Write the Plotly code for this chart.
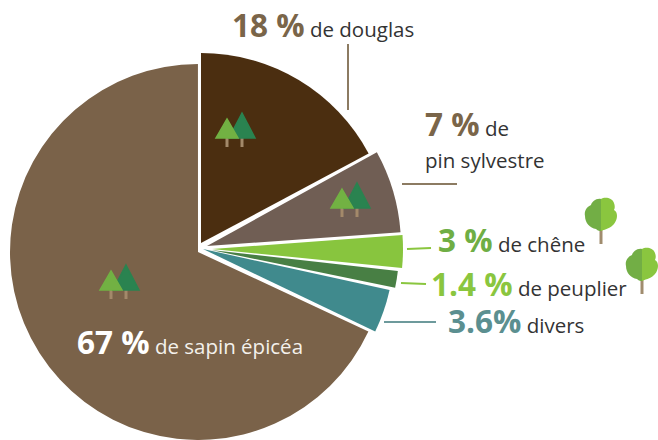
import plotly.graph_objects as go

W, H = 658, 440
# Drawn shares of each wedge (percent of the circle)
names = ["douglas", "pin sylvestre", "chêne", "peuplier", "divers", "sapin épicéa"]
shares = [17.2, 6.9, 2.75, 1.45, 3.67, 68.05]
colors = ["#4b2e10", "#705e54", "#88c53e", "#487f44", "#408a8d", "#7a6249"]
# Layout of the exploded wedges: vertex x, y, radius, start angle
centers_x = [201, 207, 212, 211, 203, 198]
centers_y = [243, 246, 249, 250, 249, 252]
radii = [190, 194, 191, 188, 191, 188]
rotations = [0, 61.1, 85.8, 96.4, 102.4, 115]

TXT = "#333333"
BROWN = "#7a6549"


def px(x):
    return x / W


def py(y):
    return 1 - y / H


def path(cmds):
    out = []
    for c in cmds:
        if isinstance(c, str):
            out.append(c)
        else:
            out.append(f"{px(c[0]):.5f},{py(c[1]):.5f}")
    return " ".join(out)


fig = go.Figure()
for n, s, c, cx, cy, r, rot in zip(names, shares, colors, centers_x, centers_y, radii, rotations):
    fig.add_trace(go.Pie(
        labels=[n, "reste"],
        values=[s, 100 - s],
        sort=False,
        direction="clockwise",
        rotation=rot,
        marker=dict(colors=[c, "rgba(0,0,0,0)"], line=dict(width=0)),
        textinfo="none",
        hoverinfo="skip",
        showlegend=False,
        domain=dict(x=[(cx - r) / W, (cx + r) / W], y=[1 - (cy + r) / H, 1 - (cy - r) / H]),
    ))

shapes = []


def line(x0, y0, x1, y1, color, width=2):
    shapes.append(dict(type="line", xref="paper", yref="paper", x0=px(x0), y0=py(y0), x1=px(x1), y1=py(y1),
                       line=dict(color=color, width=width), layer="above"))


def poly(cmds, fill, lw=0):
    shapes.append(dict(type="path", xref="paper", yref="paper", path=path(cmds), fillcolor=fill,
                       line=dict(color=fill, width=lw), layer="above"))


def conifers(lx, tip_y):
    """lx: light tree tip x; tip_y: light tree tip y"""
    trunk = "#a3896a"
    dx = lx + 15
    line(lx, tip_y + 20, lx, tip_y + 30, trunk, 3)
    line(dx, tip_y + 20, dx, tip_y + 30, trunk, 3)
    poly(["M", (dx, tip_y - 4), "L", (dx + 13, tip_y + 21), "L", (dx - 13, tip_y + 21), "Z"], "#2a8350", 1.5)
    poly(["M", (lx, tip_y + 2), "L", (lx + 11, tip_y + 21), "L", (lx - 11, tip_y + 21), "Z"], "#72b143", 1.5)


def broadleaf(x, y):
    """x: trunk axis; y: canopy top"""
    def p(a, b):
        return (x + a, y + b)
    line(x, y + 30, x, y + 46, "#a08c6e", 3)
    poly(["M", p(0, 1), "C", p(-5, 0), p(-9, 4), p(-10, 7), "C", p(-15, 9), p(-17, 14), p(-16, 18),
          "C", p(-16, 25), p(-11, 30), p(-5, 31), "C", p(-3, 33), p(-1, 33), p(0, 33), "Z"], "#72ae45")
    poly(["M", p(0, 1), "C", p(3, -1), p(11, -1), p(13, 5), "C", p(14, 8), p(14, 10), p(13, 12),
          "C", p(17, 14), p(17, 21), p(13, 26), "C", p(10, 30), p(5, 31), p(0, 33), "Z"], "#8ac63f")


# Leader lines
line(348, 44, 348, 110, "#8c7b62")
line(402, 184, 457, 184, "#8c7b62")
line(407, 249, 431, 248, "#8ac63f")
line(401, 283, 426, 284, "#8ac63f")
line(384, 322, 436, 322, "#6d9a9c")

# Icons
conifers(227, 117)
conifers(342, 187)
conifers(111, 269)
broadleaf(601, 198)
broadleaf(642, 248)

FONT = "Open Sans"


def note(x, y, big, small, color, small_color=TXT, size=31.5, small_size=20.5):
    parts = []
    if big:
        parts.append(f"<b><span style='font-size:{size}px;color:{color}'>{big}</span></b>")
        small = " " + small
    parts.append(f"<span style='font-size:{small_size}px;color:{small_color}'>{small}</span>")
    return dict(x=px(x), y=py(y), xref="paper", yref="paper", xanchor="left", yanchor="middle",
                text="".join(parts), showarrow=False, font=dict(family=FONT, size=small_size, color=small_color),
                borderpad=0, borderwidth=0)


annots = [
    note(232, 25, "18 %", "de douglas", BROWN),
    note(425, 124, "7 %", "de", BROWN),
    note(425, 160, "", "pin sylvestre", BROWN),
    note(438, 240, "3 %", "de chêne", "#6fae44"),
    note(431, 283, "1.4 %", "de peuplier", "#8ac63f"),
    note(448, 320, "3.6%", "divers", "#5b8f90"),
    note(77, 341, "67 %", "de sapin épicéa", "#ffffff", "#f4f1ec"),
]

fig.update_layout(
    width=W, height=H,
    margin=dict(l=0, r=0, t=0, b=0),
    paper_bgcolor="#ffffff",
    plot_bgcolor="#ffffff",
    showlegend=False,
    shapes=shapes,
    annotations=annots,
    font=dict(family=FONT),
)
fig.write_html("out.html", config={"displayModeBar": False},
               post_script="document.body.style.margin='0';document.body.style.overflow='hidden';")
